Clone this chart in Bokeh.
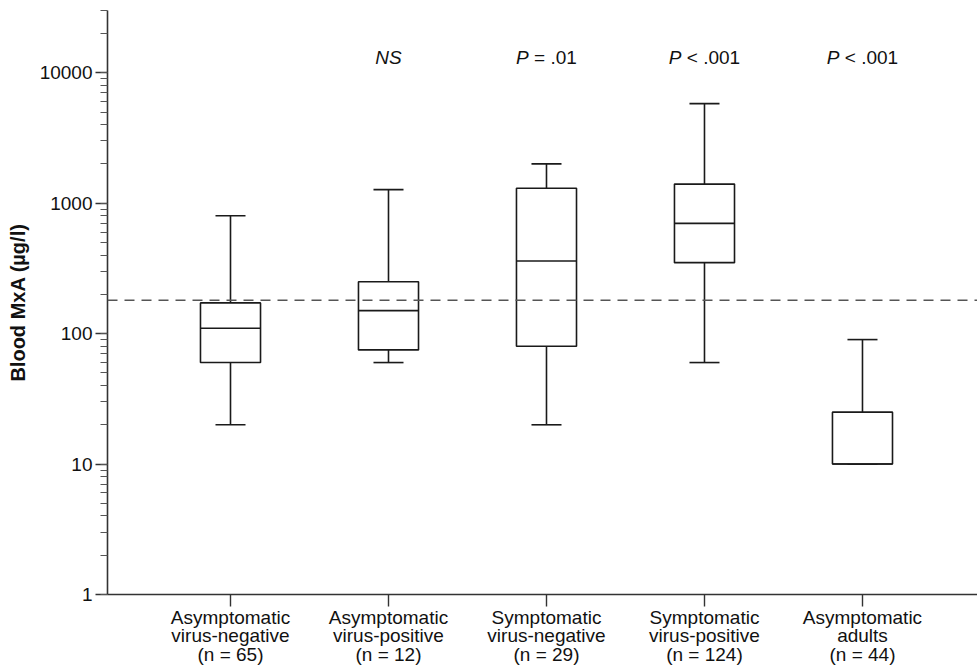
from bokeh.plotting import figure
from bokeh.models import ColumnDataSource, Span, LogTicker, FixedTicker, NumeralTickFormatter, Range1d
from bokeh.embed import file_html
from bokeh.resources import INLINE
from bokeh.core.properties import value

# ---- data ----
group_line1 = ["Asymptomatic", "Asymptomatic", "Symptomatic", "Symptomatic", "Asymptomatic"]
group_line2 = ["virus-negative", "virus-positive", "virus-negative", "virus-positive", "adults"]
n_values = [65, 12, 29, 124, 44]
whisker_low = [20, 60, 20, 60, 10]
q1 = [60, 75, 80, 350, 10]
median = [110, 150, 360, 700, 10]
q3 = [172, 250, 1300, 1400, 25]
whisker_high = [800, 1270, 2000, 5800, 90]
italic_part = ["", "NS", "P", "P", "P"]
plain_part = ["", "", "\u00a0=\u00a0.01", "\u00a0<\u00a0.001", "\u00a0<\u00a0.001"]
cutoff = 180

FONT = "Liberation Sans"
FS = 19
xs = list(range(1, len(n_values) + 1))
box_w = 0.38
cap_w = 0.19

p = figure(width=977, height=668, output_backend="svg", toolbar_location=None,
           y_axis_type="log", x_range=Range1d(0.2215, 5.728), y_range=Range1d(1, 30000),
           min_border_left=107, min_border_right=0, min_border_top=10, min_border_bottom=72)
p.outline_line_color = None
p.xgrid.visible = False
p.ygrid.visible = False
p.background_fill_color = "white"
p.border_fill_color = "white"

src = ColumnDataSource(dict(
    x=xs, lo=whisker_low, q1=q1, med=median, q3=q3, hi=whisker_high,
    cl=[x - cap_w / 2 for x in xs], cr=[x + cap_w / 2 for x in xs],
    bl=[x - box_w / 2 for x in xs], br=[x + box_w / 2 for x in xs],
))

LC = "#1a1a1a"
LW = 1.6
# whiskers
p.segment(x0="x", y0="q3", x1="x", y1="hi", source=src, line_color=LC, line_width=LW)
p.segment(x0="x", y0="lo", x1="x", y1="q1", source=src, line_color=LC, line_width=LW)
p.segment(x0="cl", y0="hi", x1="cr", y1="hi", source=src, line_color=LC, line_width=LW)
p.segment(x0="cl", y0="lo", x1="cr", y1="lo", source=src, line_color=LC, line_width=LW)
# boxes
p.vbar(x="x", width=box_w, bottom="q1", top="q3", source=src, fill_color="white",
       line_color=LC, line_width=LW)
p.segment(x0="bl", y0="med", x1="br", y1="med", source=src, line_color=LC, line_width=LW)

# cutoff line
p.add_layout(Span(location=cutoff, dimension="width", line_color="#555555",
                  line_width=1.6, line_dash="10 7"))

# annotations (italic P / NS + plain remainder)
W = {"P": 0.667, "N": 0.722, "S": 0.667, " ": 0.278, "\u00a0": 0.278, "=": 0.584, "<": 0.584,
     ".": 0.278, "0": 0.556, "1": 0.556}
def tw(s):
    return sum(W.get(c, 0.556) for c in s) * FS

ax, at, aoff, bx, bt, boff = [], [], [], [], [], []
for x, it, pl in zip(xs, italic_part, plain_part):
    if not it:
        continue
    total = tw(it) + tw(pl)
    left = -total / 2
    ax.append(x); at.append(it); aoff.append(left + tw(it))
    if pl:
        bx.append(x); bt.append(pl); boff.append(left + tw(it))
ann_y = 13000
p.text(x=ax, y=[ann_y] * len(ax), text=at, x_offset=aoff, text_align="right",
       text_baseline="middle", text_font=value(FONT), text_font_style="italic",
       text_font_size=f"{FS}px", text_color="#111111")
p.text(x=bx, y=[ann_y] * len(bx), text=bt, x_offset=boff, text_align="left",
       text_baseline="middle", text_font=value(FONT),
       text_font_size=f"{FS}px", text_color="#111111")

# axes
yax = p.yaxis[0]
yax.ticker = LogTicker(num_minor_ticks=10, desired_num_ticks=6)
yax.formatter = NumeralTickFormatter(format="0")
yax.axis_label = "Blood MxA (µg/l)"
yax.axis_label_text_font = FONT
yax.axis_label_text_font_style = "bold"
yax.axis_label_text_font_size = "20px"
yax.axis_label_text_color = "#111111"
yax.axis_label_standoff = 8
yax.major_label_text_font = FONT
yax.major_label_text_font_size = f"{FS}px"
yax.major_label_text_color = "#111111"
yax.major_label_standoff = 3
yax.major_tick_out = 12
yax.major_tick_in = 0
yax.minor_tick_out = 7
yax.minor_tick_in = 0
yax.axis_line_color = "#333333"
yax.axis_line_width = 1.6
yax.major_tick_line_color = "#333333"
yax.major_tick_line_width = 1.4
yax.minor_tick_line_color = "#555555"
yax.minor_tick_line_width = 1.2

xax = p.xaxis[0]
xax.ticker = FixedTicker(ticks=xs)
xax.major_label_overrides = {
    x: f"{a}\n{b}\n(n = {n})" for x, a, b, n in zip(xs, group_line1, group_line2, n_values)
}
xax.major_label_text_font = FONT
xax.major_label_text_font_size = f"{FS}px"
xax.major_label_text_color = "#111111"
xax.major_label_text_line_height = 0.9
xax.major_label_standoff = 0
xax.major_tick_out = 12
xax.major_tick_in = 0
xax.minor_tick_out = 0
xax.minor_tick_in = 0
xax.axis_line_color = "#333333"
xax.axis_line_width = 1.6
xax.major_tick_line_color = "#333333"
xax.major_tick_line_width = 1.4

open("out.html", "w").write(file_html(p, INLINE))
